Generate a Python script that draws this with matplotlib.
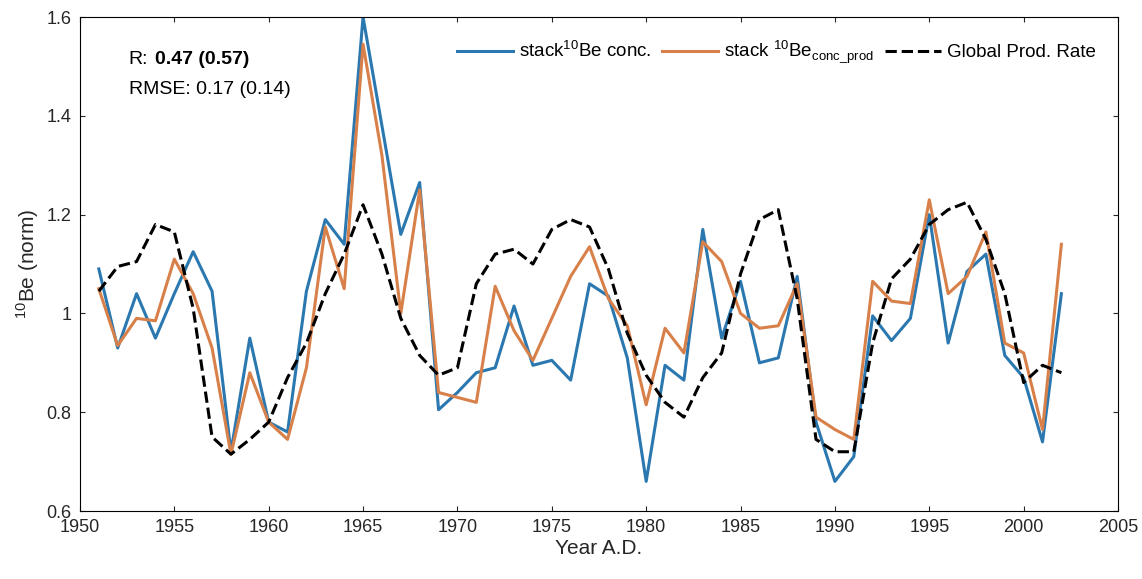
import numpy as np
import matplotlib.pyplot as plt

plt.rcParams['font.family'] = ['Liberation Sans', 'DejaVu Sans']
plt.rcParams['mathtext.fontset'] = 'custom'
plt.rcParams['mathtext.rm'] = 'Liberation Sans'

years = np.arange(1951, 2003)
stack_conc = [1.09, 0.93, 1.04, 0.95, 1.04, 1.125, 1.045, 0.72, 0.95, 0.78,
              0.76, 1.045, 1.19, 1.14, 1.60, 1.38, 1.16, 1.265, 0.805, 0.84,
              0.88, 0.89, 1.015, 0.895, 0.905, 0.865, 1.06, 1.035, 0.91, 0.66,
              0.895, 0.865, 1.17, 0.95, 1.065, 0.90, 0.91, 1.075, 0.78, 0.66,
              0.71, 0.995, 0.945, 0.99, 1.20, 0.94, 1.085, 1.12, 0.915, 0.87,
              0.74, 1.04]
stack_prod = [1.05, 0.935, 0.99, 0.985, 1.11, 1.04, 0.93, 0.715, 0.88, 0.78,
              0.745, 0.89, 1.175, 1.05, 1.545, 1.32, 1.00, 1.25, 0.84, 0.83,
              0.82, 1.055, 0.965, 0.905, 0.99, 1.075, 1.135, 1.03, 0.975, 0.815,
              0.97, 0.92, 1.145, 1.105, 1.00, 0.97, 0.975, 1.06, 0.79, 0.765,
              0.745, 1.065, 1.025, 1.02, 1.23, 1.04, 1.075, 1.165, 0.94, 0.92,
              0.765, 1.14]
global_prod = [1.045, 1.095, 1.105, 1.18, 1.165, 1.01, 0.75, 0.715, 0.745, 0.78,
               0.87, 0.94, 1.04, 1.12, 1.22, 1.12, 0.99, 0.915, 0.875, 0.89,
               1.06, 1.12, 1.13, 1.10, 1.17, 1.19, 1.175, 1.09, 0.96, 0.875,
               0.82, 0.79, 0.87, 0.92, 1.08, 1.19, 1.21, 1.03, 0.745, 0.72,
               0.72, 0.94, 1.07, 1.11, 1.18, 1.21, 1.225, 1.15, 1.04, 0.86,
               0.895, 0.88]

fig = plt.figure(figsize=(11.42, 5.79), dpi=100)
ax = fig.add_axes([0.07, 0.1174, 0.909, 0.8532])
ax.plot(years, stack_conc, color='#2b78b0', lw=2.2, label='stack$^{10}$Be conc.')
ax.plot(years, stack_prod, color='#d8804a', lw=2.2, label='stack $^{10}$Be$_{\\mathrm{conc\\_prod}}$')
ax.plot(years, global_prod, color='black', lw=2.2, ls='--', label='Global Prod. Rate')
ax.set_xlim(1950, 2005)
ax.set_ylim(0.6, 1.6)
ax.set_xticks(np.arange(1950, 2006, 5))
ax.set_yticks([0.6, 0.8, 1.0, 1.2, 1.4, 1.6])
ax.set_yticklabels(['0.6', '0.8', '1', '1.2', '1.4', '1.6'])
ax.tick_params(labelsize=13, colors='#262626', direction='in', top=True, right=True, pad=6)
ax.set_xlabel('Year A.D.', fontsize=15, color='#262626', labelpad=2)
ax.set_ylabel('$^{10}$Be (norm)', fontsize=15, color='#262626')
ax.legend(loc='upper right', ncol=3, frameon=False, fontsize=13.5,
          handlelength=3.0, columnspacing=0.6, handletextpad=0.3,
          bbox_to_anchor=(0.995, 0.99))
ax.text(0.047, 0.905, 'R:', transform=ax.transAxes, fontsize=14)
ax.text(0.072, 0.905, '0.47 (0.57)', transform=ax.transAxes, fontsize=14, fontweight='bold')
ax.text(0.047, 0.845, 'RMSE: 0.17 (0.14)', transform=ax.transAxes, fontsize=14)
fig.savefig('out.png', dpi=100)
